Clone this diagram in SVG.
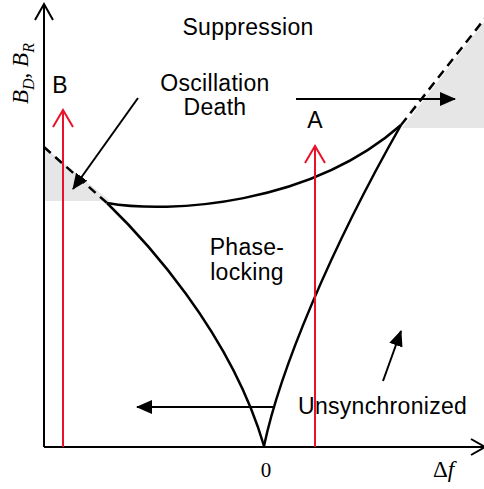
<svg xmlns="http://www.w3.org/2000/svg" width="484" height="489" viewBox="0 0 484 489">
<style>
.lbl{font-family:"Liberation Sans",Arial,sans-serif;font-size:23px;fill:#000}
.math{font-family:"Liberation Serif","DejaVu Serif",serif;fill:#000}
.ax{stroke:#000;stroke-width:2;fill:none}
.crv{stroke:#000;stroke-width:2.5;fill:none}
.dash{stroke:#000;stroke-width:2.5;fill:none;stroke-dasharray:9,6}
.red{stroke:#e8132b;stroke-width:2;fill:none}
.arr{stroke:#000;stroke-width:2;fill:none;marker-end:url(#ah)}
.shade{fill:#e6e6e6;stroke:none}
</style>
<defs>
<marker id="ah" viewBox="0 0 16 14" refX="15" refY="7" markerWidth="16" markerHeight="14" markerUnits="userSpaceOnUse" orient="auto">
<path d="M0,0 L16,7 L0,14 Z" fill="#000"/>
</marker>
</defs>
<g id="regions">
<polygon class="shade" points="44,147 44,201 110,201"/>
<polygon class="shade" points="402,128 484,22 484,128"/>
</g>
<g id="axes">
<path class="ax" d="M44,447 L44,5"/>
<path class="ax" d="M35,20 L44,4 L53,20"/>
<path class="ax" d="M44,447 L484,447"/>
<path class="ax" d="M471,439 L485,447 L471,455"/>
</g>
<g id="boundaries">
<path class="crv" d="M107,203 C170,214 310,205 401,125"/>
<path class="crv" d="M107,203 C142,237 230,330 264,446"/>
<path class="crv" d="M264,446 C280,370 330,250 401,125"/>
<path class="dash" d="M44,147 L107,203"/>
<path class="dash" d="M401,125 L486,17"/>
</g>
<g id="connectors">
<path class="arr" d="M138,98 L73,189"/>
<path class="arr" d="M296,99 L455,99"/>
<path class="arr" d="M274,407 L137,407"/>
<path class="arr" d="M383,381 L401,331"/>
</g>
<g id="pathB">
<path class="red" d="M63,447 L63,110"/>
<path class="red" d="M53,127 L63,110 L73,127"/>
<text class="lbl" x="60" y="93" text-anchor="middle">B</text>
</g>
<g id="pathA">
<path class="red" d="M315,447 L315,146"/>
<path class="red" d="M305,163 L315,146 L325,163"/>
<text class="lbl" x="315" y="128" text-anchor="middle">A</text>
</g>
<g id="labels">
<text class="lbl" x="248" y="35" text-anchor="middle" letter-spacing="0.3">Suppression</text>
<text class="lbl" x="215" y="91" text-anchor="middle" letter-spacing="0.3">Oscillation</text>
<text class="lbl" x="215" y="115" text-anchor="middle" letter-spacing="0.3">Death</text>
<text class="lbl" x="247" y="255" text-anchor="middle" letter-spacing="0.3">Phase-</text>
<text class="lbl" x="247" y="280" text-anchor="middle" letter-spacing="0.3">locking</text>
<text class="lbl" x="298" y="414" letter-spacing="0.3">Unsynchronized</text>
<text class="math" x="266" y="477" font-size="21" text-anchor="middle">0</text>
<text class="math" x="433" y="477" font-size="23">Δ<tspan font-style="italic">f</tspan></text>
<text class="math" transform="translate(28,104) rotate(-90)" font-size="23" font-style="italic">B<tspan font-size="16" dy="6">D</tspan><tspan dy="-6" font-style="normal">, </tspan>B<tspan font-size="16" dy="6">R</tspan></text>
</g>
</svg>
